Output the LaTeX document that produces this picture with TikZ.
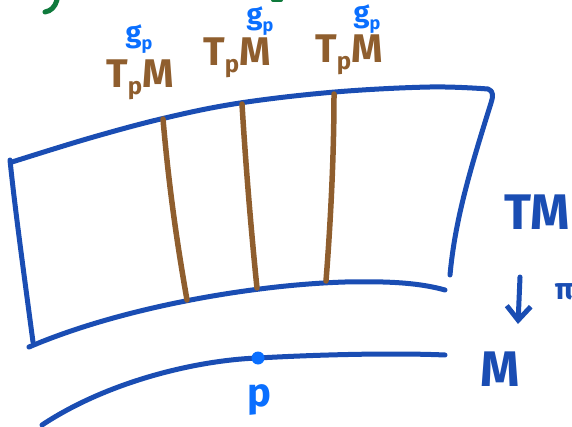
\documentclass[tikz,border=0pt]{standalone}
\usepackage{fontspec}
\setmainfont{Fira Sans}
\usetikzlibrary{arrows.meta}
\definecolor{sketchblue}{HTML}{1A4DB3}
\definecolor{labelblue}{HTML}{0A6FFF}
\definecolor{fiberbrown}{HTML}{8F5E2E}
\definecolor{inkgreen}{HTML}{0F7A3C}
\tikzset{
  bluestroke/.style={draw=sketchblue, line width=5pt, line cap=round, line join=round},
  fiberstroke/.style={draw=fiberbrown, line width=5.5pt, line cap=round},
  fiberlabel/.style={text=fiberbrown, font=\fontsize{40}{42}\selectfont\bfseries, inner sep=0pt},
  metriclabel/.style={text=labelblue, font=\fontsize{29}{31}\selectfont\bfseries, inner sep=0pt},
  spacelabel/.style={text=sketchblue, font=\fontsize{50}{52}\selectfont\bfseries, inner sep=0pt},
}
\newcommand{\tpm}{T\raisebox{-0.35ex}{\fontsize{24}{24}\selectfont p}M}
\newcommand{\gp}{g\raisebox{-0.4ex}{\fontsize{18}{18}\selectfont p}}
\begin{document}
\begin{tikzpicture}[x=1pt,y=-1pt]
\useasboundingbox (0,0) rectangle (572,427);
% bundle box
\draw[bluestroke] plot[smooth, tension=0.6] coordinates {(12,162) (90,138) (165,118) (240,103) (335,92) (430,87) (488,89)}
  .. controls (494,91) and (493,97) .. (491,103)
  .. controls (470,170) and (455,220) .. (450,275);
\draw[bluestroke] (10,160) .. controls (14,200) and (22,260) .. (33,342);
\draw[bluestroke] (29,347) .. controls (120,308) and (250,285) .. (345,282)
  .. controls (390,281) and (420,283) .. (445,290);
% base manifold
\draw[bluestroke] (42,425) .. controls (110,380) and (200,360) .. (258,358)
  .. controls (330,354) and (400,353) .. (445,355);
\node[circle, fill=labelblue, inner sep=0pt, minimum size=13pt] (p) at (258,358) {};
% fibers
\draw[fiberstroke] (163,119) .. controls (170,200) and (180,260) .. (187,300);
\draw[fiberstroke] (242,104) .. controls (246,170) and (252,240) .. (257,288);
\draw[fiberstroke] (334,94) .. controls (334,160) and (330,230) .. (326,281);
% fiber labels
\node[fiberlabel] (t1) at (140,80) {\tpm};
\node[fiberlabel] (t2) at (237,58) {\tpm};
\node[fiberlabel] (t3) at (349,55) {\tpm};
\node[metriclabel] (g1) at (139,39) {\gp};
\node[metriclabel] (g2) at (260,21) {\gp};
\node[metriclabel] (g3) at (367,19) {\gp};
\node[text=labelblue, font=\fontsize{40}{42}\selectfont\bfseries, inner sep=0pt] (plabel) at (259,400) {p};
% TM, pi, M
\node[spacelabel] (tm) at (537,212) {TM};
\node[spacelabel] (m) at (500,369) {M};
\node[text=sketchblue, font=\fontsize{30}{32}\selectfont\bfseries, inner sep=0pt] (pi) at (564,292) {π};
\coordinate (astart) at (520,277);
\coordinate (aend) at (518,324);
\draw[bluestroke, -{Straight Barb[length=14pt, width=24pt, line width=5pt]}] (astart) -- (aend);
% green fragments at top edge
\draw[draw=inkgreen, line width=5pt, line cap=round] (57,0) .. controls (55,7) and (51,11) .. (45,12);
\draw[draw=inkgreen, line width=4pt, line cap=round] (273,0) -- (281,0);
\end{tikzpicture}
\end{document}
